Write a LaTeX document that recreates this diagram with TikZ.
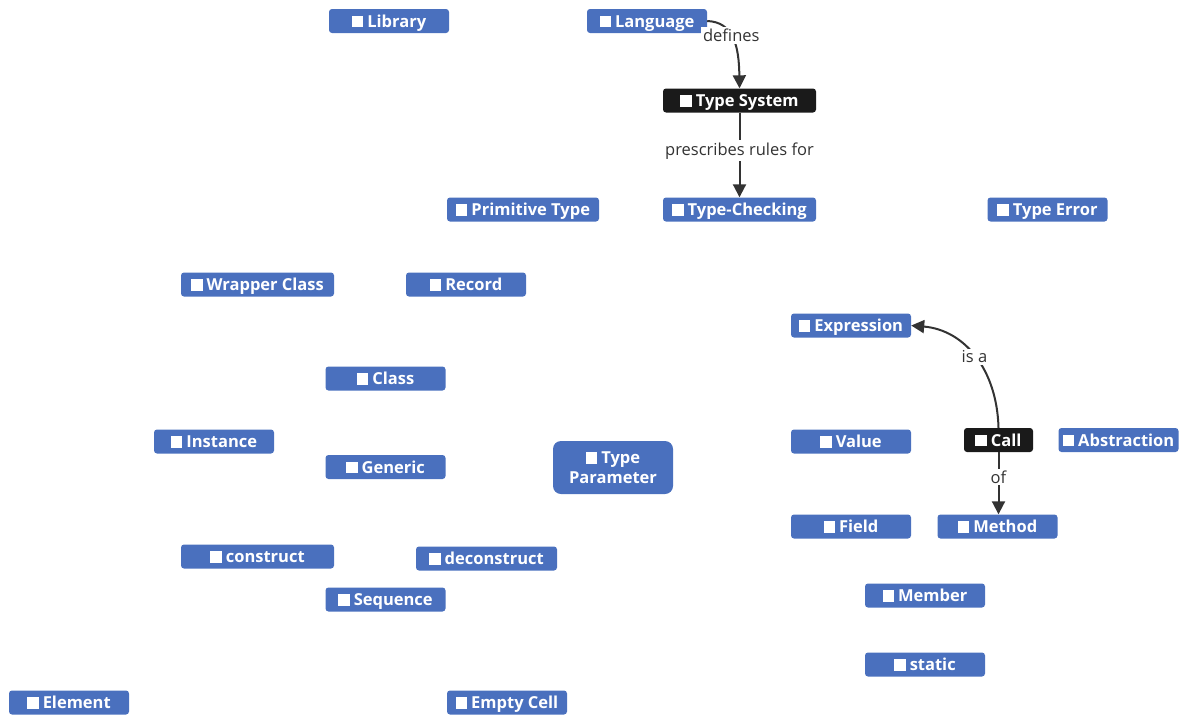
\documentclass[tikz,border=0pt]{standalone}
\usepackage{fontspec}
\setmainfont{Open Sans}
\usetikzlibrary{arrows.meta}
\definecolor{conceptblue}{RGB}{74,112,190}
\definecolor{focusblack}{RGB}{26,26,26}
\definecolor{linkgray}{RGB}{51,51,51}
\newcommand{\sq}{\rule{11.5pt}{11.5pt}\hspace{4pt}}
\begin{document}
\begin{tikzpicture}[x=1pt,y=1pt,
    concept/.style={fill=conceptblue,text=white,rounded corners=3pt,minimum width=120pt,minimum height=24pt,inner sep=0pt,text height=15.5pt,text depth=3.5pt,font=\fontsize{16.5}{19.5}\selectfont\bfseries},
    focus/.style={concept,fill=focusblack},
    link/.style={draw=linkgray,line width=2pt,-{Triangle[length=13pt,width=13pt]}},
    linklabel/.style={fill=white,text=linkgray,font=\fontsize{16.5}{19.5}\selectfont,inner sep=2pt}]
  \useasboundingbox (0,0) rectangle (1184,-715);
  % top row
  \node[concept] (library) at (389,-21) {\sq Library};
  \node[concept] (language) at (647,-21) {\sq Language};
  \node[focus,minimum width=153pt] (typesystem) at (739.5,-100.5) {\sq Type System};
  \node[concept,minimum width=152pt] (primitive) at (523,-209.5) {\sq Primitive Type};
  \node[concept,minimum width=153pt] (typecheck) at (739.5,-209.5) {\sq Type-Checking};
  \node[concept] (typeerror) at (1047.5,-209.5) {\sq Type Error};
  % left half
  \node[concept,minimum width=153pt] (wrapper) at (257.5,-284.5) {\sq Wrapper Class};
  \node[concept] (record) at (466,-284.5) {\sq Record};
  \node[concept] (class) at (385.5,-378.5) {\sq Class};
  \node[concept] (instance) at (214,-441.5) {\sq Instance};
  \node[concept] (generic) at (385.5,-467) {\sq Generic};
  \node[concept,minimum height=53pt,rounded corners=8pt,align=center,text height=,text depth=] (typeparam) at (613,-467.5) {\sq Type\\Parameter};
  \node[concept,minimum width=153pt] (construct) at (257.5,-556.5) {\sq construct};
  \node[concept,minimum width=141pt] (deconstruct) at (486.5,-558.5) {\sq deconstruct};
  \node[concept] (sequence) at (385.5,-599.5) {\sq Sequence};
  \node[concept] (element) at (69,-702.5) {\sq Element};
  \node[concept] (emptycell) at (507,-702.5) {\sq Empty Cell};
  % right half
  \node[concept] (expression) at (851,-325.5) {\sq Expression};
  \node[concept] (value) at (851,-441.5) {\sq Value};
  \node[focus,minimum width=69pt] (call) at (998.5,-440) {\sq Call};
  \node[concept] (abstraction) at (1118.5,-440) {\sq Abstraction};
  \node[concept] (field) at (851,-526.5) {\sq Field};
  \node[concept] (method) at (997.5,-526.5) {\sq Method};
  \node[concept] (member) at (925,-595.5) {\sq Member};
  \node[concept] (static) at (925,-664.5) {\sq static};
  % links
  \draw[link] (language.east) .. controls (733,-22) and (739,-45) .. node[linklabel,pos=0.45] {defines} (typesystem.north);
  \draw[link] (typesystem) -- node[linklabel,pos=0.45] {prescribes rules for} (typecheck);
  \draw[link] (call.north) .. controls (997,-370) and (965,-330) .. node[linklabel,pos=0.5] {is a} (expression.east);
  \draw[link] (call.south) -- node[linklabel,pos=0.4] {of} (call.south |- method.north);
\end{tikzpicture}
\end{document}
